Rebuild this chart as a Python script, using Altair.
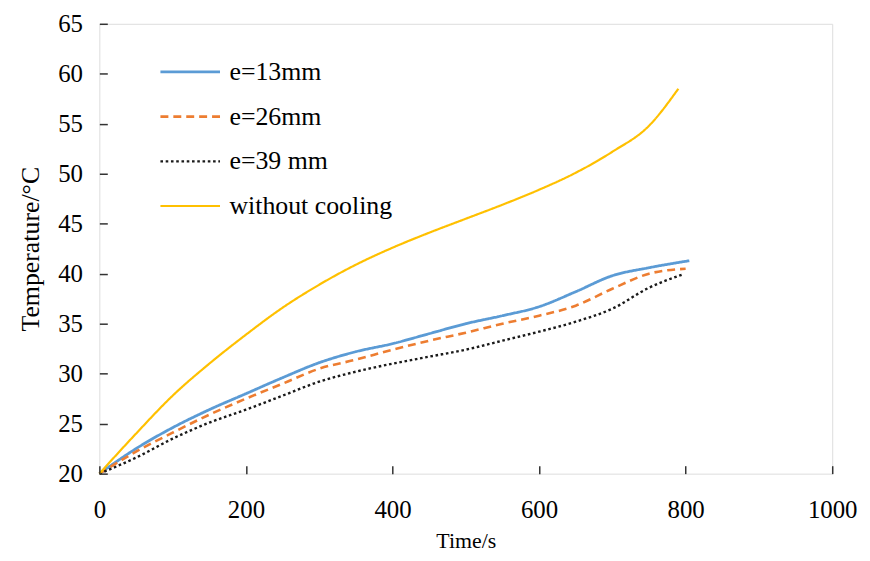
import altair as alt
import pandas as pd

# Time (s) and temperature (°C)
t_13 = [0, 50, 100, 150, 200, 250, 300, 350, 400, 450, 500, 550, 600, 650, 700, 750, 805]
T_13 = [20, 22.5, 24.6, 26.4, 28.0, 29.6, 31.1, 32.2, 33.0, 34.0, 35.0, 35.8, 36.7, 38.2, 39.8, 40.6, 41.3]

t_26 = [0, 50, 100, 150, 200, 250, 300, 350, 400, 450, 500, 550, 600, 650, 700, 750, 800]
T_26 = [20, 22.2, 24.1, 25.9, 27.5, 29.0, 30.5, 31.4, 32.4, 33.3, 34.1, 35.0, 35.8, 36.8, 38.5, 40.0, 40.5]

t_39 = [0, 50, 100, 150, 200, 250, 300, 350, 400, 450, 500, 550, 600, 650, 700, 750, 795]
T_39 = [20, 21.6, 23.5, 25.1, 26.4, 27.8, 29.2, 30.2, 31.0, 31.7, 32.4, 33.3, 34.2, 35.2, 36.5, 38.6, 39.9]

t_nc = [0, 50, 100, 150, 200, 250, 300, 350, 400, 450, 500, 550, 600, 650, 700, 750, 790]
T_nc = [20, 24.0, 27.8, 31.0, 33.9, 36.6, 38.9, 40.9, 42.6, 44.1, 45.5, 46.9, 48.4, 50.1, 52.2, 54.8, 58.5]

series_names = ["e=13mm", "e=26mm", "e=39 mm", "without cooling"]
series_colors = ["#5B9BD5", "#ED7D31", "#1a1a1a", "#FFC000"]
series_dash = [[1, 0], [8, 5], [2.6, 2.7], [1, 0]]
series_widths = [2.8, 2.2, 3.0, 2.8]

x_ticks = [0, 200, 400, 600, 800, 1000]
y_ticks = [20, 25, 30, 35, 40, 45, 50, 55, 60, 65]

rows = []
for name, ts, Ts in zip(series_names, [t_13, t_26, t_39, t_nc], [T_13, T_26, T_39, T_nc]):
    for t, T in zip(ts, Ts):
        rows.append({"series": name, "time": t, "temp": T})
df = pd.DataFrame(rows)

FONT = "Liberation Serif"
AX = "#404040"

legend_kw = dict(title=None, orient="none", legendX=60, legendY=17,
                 symbolType="stroke", symbolSize=3600,
                 symbolStrokeWidth=2.6, labelFont=FONT,
                 labelFontSize=26, labelColor="black",
                 labelOffset=8, rowPadding=-17.5, padding=0,
                 labelLimit=400)

chart = alt.Chart(df).mark_line(interpolate="monotone").encode(
    x=alt.X("time:Q",
            scale=alt.Scale(domain=[0, 1000], nice=False),
            axis=alt.Axis(values=x_ticks, title="Time/s", format="d", offset=-8, tickSize=8,
                          ticks=True, tickOpacity=1,
                          domain=False, grid=False, tickColor="#333333", tickWidth=1.5, zindex=2,
                          labelPadding=24, labelFontSize=25, labelFont=FONT,
                          labelColor="black", titleFont=FONT, titleFontSize=22,
                          titleFontWeight="normal", titleColor="black", titlePadding=8,
                          labelFlush=False)),
    y=alt.Y("temp:Q",
            scale=alt.Scale(domain=[20, 65], nice=False, zero=False),
            axis=alt.Axis(values=y_ticks, title="Temperature/°C", offset=-8, tickSize=8,
                          ticks=True, tickOpacity=1,
                          domain=False, grid=False, tickColor="#333333", tickWidth=1.5, zindex=2,
                          labelPadding=17, labelFontSize=25, labelFont=FONT,
                          labelColor="black", titleFont=FONT, titleFontSize=26,
                          titleFontWeight="normal", titleColor="black", titlePadding=14,
                          labelFlush=False)),
    color=alt.Color("series:N",
                    scale=alt.Scale(domain=series_names, range=series_colors),
                    legend=alt.Legend(**legend_kw)),
    strokeDash=alt.StrokeDash("series:N",
                              scale=alt.Scale(domain=series_names, range=series_dash),
                              legend=alt.Legend(**legend_kw)),
    strokeWidth=alt.StrokeWidth("series:N",
                                scale=alt.Scale(domain=series_names, range=series_widths),
                                legend=None),
).properties(
    width=738,
    height=453,
    autosize=alt.AutoSizeParams(type="none"),
    padding={"left": 92, "top": 14, "right": 30, "bottom": 78},
).configure_view(
    stroke=AX, strokeWidth=1.5
).configure(background="white")

chart.save("out.html", embed_options={"renderer": "svg", "actions": False})
